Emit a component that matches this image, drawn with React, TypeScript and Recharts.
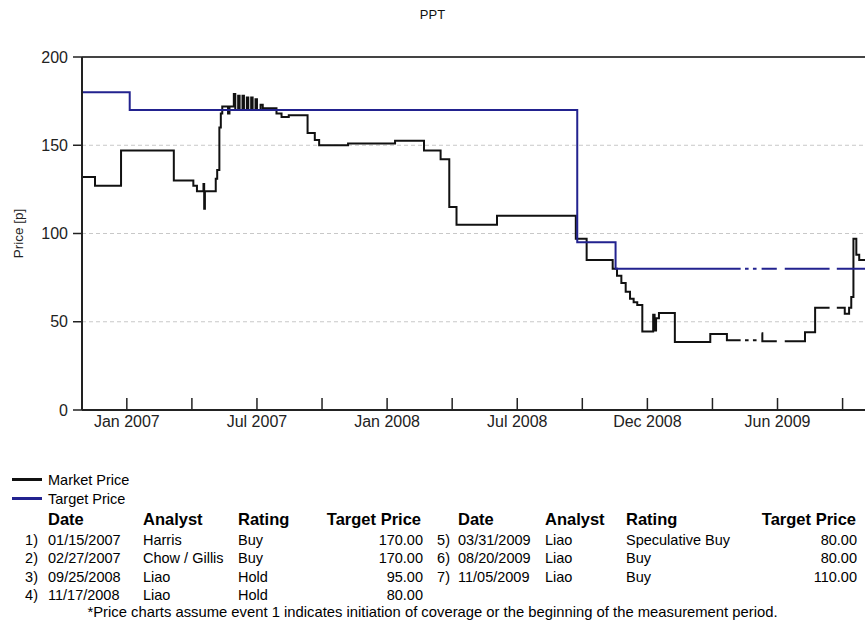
import React from 'react';
import { LineChart, Line, XAxis, YAxis, CartesianGrid, ReferenceLine, Label } from 'recharts';

const FONT = '"Liberation Sans", Arial, Helvetica, sans-serif';

const chartTitle = 'PPT';
const yAxisTitle = 'Price [p]';
const axisStartDate = '2006-11-10';
const axisEndDate = '2009-10-28';

const marketDates = [
  '2006-11-10', '2006-11-28', '2007-01-03', '2007-03-17', '2007-04-13', '2007-04-18', '2007-04-27', '2007-04-28',
  '2007-04-29', '2007-05-14', '2007-05-16', '2007-05-19', '2007-05-21', '2007-05-23', '2007-05-31', '2007-06-02',
  '2007-06-08', '2007-06-10', '2007-06-14', '2007-06-16', '2007-06-20', '2007-06-22', '2007-06-26', '2007-06-28',
  '2007-07-02', '2007-07-04', '2007-07-08', '2007-07-10', '2007-07-15', '2007-07-18', '2007-08-06', '2007-08-13',
  '2007-08-23', '2007-09-18', '2007-09-28', '2007-10-04', '2007-11-13', '2008-01-17', '2008-02-26', '2008-03-20',
  '2008-04-01', '2008-04-11', '2008-06-06', '2008-09-23', '2008-10-08', '2008-11-13', '2008-11-19', '2008-11-25',
  '2008-12-01', '2008-12-07', '2008-12-12', '2008-12-17', '2008-12-24', '2009-01-08', '2009-01-10', '2009-01-12',
  '2009-01-16', '2009-02-07', '2009-03-28', '2009-04-20', '2009-05-09', '2009-05-11', '2009-05-15', '2009-05-20',
  '2009-05-22', '2009-05-26', '2009-05-31', '2009-06-03', '2009-06-07', '2009-06-08', '2009-06-28', '2009-07-03',
  '2009-07-09', '2009-08-06', '2009-08-20', '2009-09-09', '2009-09-13', '2009-09-19', '2009-09-30', '2009-10-06',
  '2009-10-09', '2009-10-12', '2009-10-16', '2009-10-20', '2009-10-28',
];
const marketValues: (number | null)[] = [
  132, 127, 147, 130, 127, 124, 128, 114,
  124, 131, 136, 160, 168, 172, 168, 172,
  179, 170, 178, 170, 178, 170, 177, 170,
  177, 170, 176, 170, 173, 171, 168, 166,
  167, 157, 153, 150, 151, 152.5, 147, 142,
  115, 105, 110, 97, 85, 80, 76, 72,
  67, 63, 61, 59.5, 44.5, 54, 45, 52,
  55, 38.5, 43, 39.5, 39.5, null, 39.5, 39.5,
  null, 39.5, 39.5, null, 43.5, 39, 39, null,
  39, 44, 58, 58, null, 58, 54.5, 58,
  64, 97, 88, 85, 85,
];

const targetDates = [
  '2006-11-10', '2007-01-15', '2008-09-25', '2008-11-17', '2009-05-09', '2009-05-11', '2009-05-15', '2009-05-20',
  '2009-05-22', '2009-05-26', '2009-05-31', '2009-06-03', '2009-06-07', '2009-06-28', '2009-07-03', '2009-07-09',
  '2009-09-09', '2009-09-13', '2009-09-19', '2009-10-28',
];
const targetValues: (number | null)[] = [
  180, 170, 95, 80, 80, null, 80, 80,
  null, 80, 80, null, 80, 80, null, 80,
  80, null, 80, 80,
];

const xTickDates = [
  '2007-01-11', '2007-04-11', '2007-07-10', '2007-10-08', '2008-01-06', '2008-04-05',
  '2008-07-04', '2008-10-02', '2008-12-31', '2009-03-31', '2009-06-29', '2009-09-27',
];
const xTickLabels = ['Jan 2007', '', 'Jul 2007', '', 'Jan 2008', '', 'Jul 2008', '', 'Dec 2008', '', 'Jun 2009', ''];
const yTicks = [0, 50, 100, 150, 200];

const seriesNames = ['Market Price', 'Target Price'];
const seriesColors = ['#111111', '#22228f'];

const tableHeaders = ['Date', 'Analyst', 'Rating', 'Target Price'];
const eventNumbers = ['1)', '2)', '3)', '4)', '5)', '6)', '7)'];
const eventDates = ['01/15/2007', '02/27/2007', '09/25/2008', '11/17/2008', '03/31/2009', '08/20/2009', '11/05/2009'];
const eventAnalysts = ['Harris', 'Chow / Gillis', 'Liao', 'Liao', 'Liao', 'Liao', 'Liao'];
const eventRatings = ['Buy', 'Buy', 'Hold', 'Hold', 'Speculative Buy', 'Buy', 'Buy'];
const eventTargets = ['170.00', '170.00', '95.00', '80.00', '80.00', '80.00', '110.00'];
const footnote = '*Price charts assume event 1 indicates initiation of coverage or the beginning of the measurement period.';

const ts = (s: string) => Date.parse(s + 'T00:00:00Z');
const marketData = marketDates.map((d, i) => ({ t: ts(d), v: marketValues[i] }));
const targetData = targetDates.map((d, i) => ({ t: ts(d), v: targetValues[i] }));
const xTicks = xTickDates.map(ts);

const W = 865;

const XTick = (props: any) => {
  const { x, y, payload } = props;
  const i = xTicks.indexOf(payload.value);
  const label = i >= 0 ? xTickLabels[i] : '';
  return (
    <g>
      <line x1={x} y1={y} x2={x} y2={y - 12} stroke="#222" strokeWidth={1.5} />
      {label ? (
        <text x={x} y={y + 17} textAnchor="middle" fontSize={16} fill="#222" fontFamily={FONT}>
          {label}
        </text>
      ) : null}
    </g>
  );
};

const YTitle = (props: any) => {
  const vb = props.viewBox || { y: 57, height: 353 };
  const cx = 18;
  const cy = vb.y + vb.height / 2;
  return (
    <text
      x={cx}
      y={cy}
      transform={`rotate(-90 ${cx} ${cy})`}
      textAnchor="middle"
      dominantBaseline="central"
      fontSize={13.5}
      fill="#222"
      fontFamily={FONT}
    >
      {yAxisTitle}
    </text>
  );
};

const TextAt = ({ x, y, right, bold, size, children }: any) => (
  <div
    style={{
      position: 'absolute',
      top: y - 10,
      left: right ? undefined : x,
      right: right ? W - x : undefined,
      fontSize: size,
      fontWeight: bold ? 'bold' : 'normal',
      lineHeight: '20px',
      whiteSpace: 'nowrap',
      color: '#000',
    }}
  >
    {children}
  </div>
);

export default function App() {
  const blocks = [
    { rows: [0, 1, 2, 3], num: 38, date: 48, analyst: 143, rating: 238, target: 423, hTarget: 421 },
    { rows: [4, 5, 6], num: 450, date: 458, analyst: 545, rating: 626, target: 857, hTarget: 856 },
  ];
  const headerY = 519;
  const rowY0 = 540;
  const rowStep = 18.3;
  return (
    <div style={{ position: 'absolute', left: 0, top: 0, width: W, height: 621, fontFamily: FONT, background: '#fff', overflow: 'hidden' }}>
      <div style={{ position: 'absolute', top: 6, left: 0, width: W, textAlign: 'center', fontSize: 13, color: '#111', lineHeight: '18px' }}>
        {chartTitle}
      </div>
      <LineChart width={W} height={440} margin={{ top: 57, right: 0, left: 0, bottom: 0 }}>
        <CartesianGrid vertical={false} stroke="#c8c8c8" strokeDasharray="4 3" />
        <XAxis
          dataKey="t"
          type="number"
          domain={[ts(axisStartDate), ts(axisEndDate)]}
          allowDataOverflow
          ticks={xTicks}
          interval={0}
          height={30}
          tickSize={0}
          tickMargin={0}
          tickLine={false}
          tick={<XTick />}
          axisLine={{ stroke: '#222', strokeWidth: 2 }}
        />
        <YAxis
          type="number"
          domain={[0, 200]}
          ticks={yTicks}
          width={82}
          tickSize={9}
          tickMargin={5}
          tickLine={{ stroke: '#222', strokeWidth: 1.5 }}
          axisLine={{ stroke: '#222', strokeWidth: 2 }}
          tick={{ fontSize: 16, fill: '#222', fontFamily: FONT }}
        >
          <Label content={<YTitle />} />
        </YAxis>
        <ReferenceLine y={200} stroke="#444" strokeWidth={2} />
        <Line
          data={marketData}
          dataKey="v"
          name={seriesNames[0]}
          type="stepAfter"
          stroke={seriesColors[0]}
          strokeWidth={2}
          dot={false}
          activeDot={false}
          connectNulls={false}
          isAnimationActive={false}
        />
        <Line
          data={targetData}
          dataKey="v"
          name={seriesNames[1]}
          type="stepAfter"
          stroke={seriesColors[1]}
          strokeWidth={2}
          dot={false}
          activeDot={false}
          connectNulls={false}
          isAnimationActive={false}
        />
      </LineChart>

      {seriesNames.map((n, i) => (
        <React.Fragment key={n}>
          <div style={{ position: 'absolute', left: 12, top: 478 + i * 19, width: 30, height: 3, background: seriesColors[i] }} />
          <TextAt x={48} y={479.5 + i * 19} size={14.5}>{n}</TextAt>
        </React.Fragment>
      ))}

      {blocks.map((b, bi) => (
        <React.Fragment key={bi}>
          <TextAt x={b.date} y={headerY} bold size={16.5}>{tableHeaders[0]}</TextAt>
          <TextAt x={b.analyst} y={headerY} bold size={16.5}>{tableHeaders[1]}</TextAt>
          <TextAt x={b.rating} y={headerY} bold size={16.5}>{tableHeaders[2]}</TextAt>
          <TextAt x={b.hTarget} y={headerY} right bold size={16.5}>{tableHeaders[3]}</TextAt>
          {b.rows.map((r, k) => {
            const y = rowY0 + k * rowStep;
            return (
              <React.Fragment key={r}>
                <TextAt x={b.num} y={y} right size={14.5}>{eventNumbers[r]}</TextAt>
                <TextAt x={b.date} y={y} size={14.5}>{eventDates[r]}</TextAt>
                <TextAt x={b.analyst} y={y} size={14.5}>{eventAnalysts[r]}</TextAt>
                <TextAt x={b.rating} y={y} size={14.5}>{eventRatings[r]}</TextAt>
                <TextAt x={b.target} y={y} right size={14.5}>{eventTargets[r]}</TextAt>
              </React.Fragment>
            );
          })}
        </React.Fragment>
      ))}

      <div style={{ position: 'absolute', top: 604, left: 0, width: W, textAlign: 'center', fontSize: 14.8, lineHeight: '16px', whiteSpace: 'nowrap', color: '#000' }}>
        {footnote}
      </div>
    </div>
  );
}
